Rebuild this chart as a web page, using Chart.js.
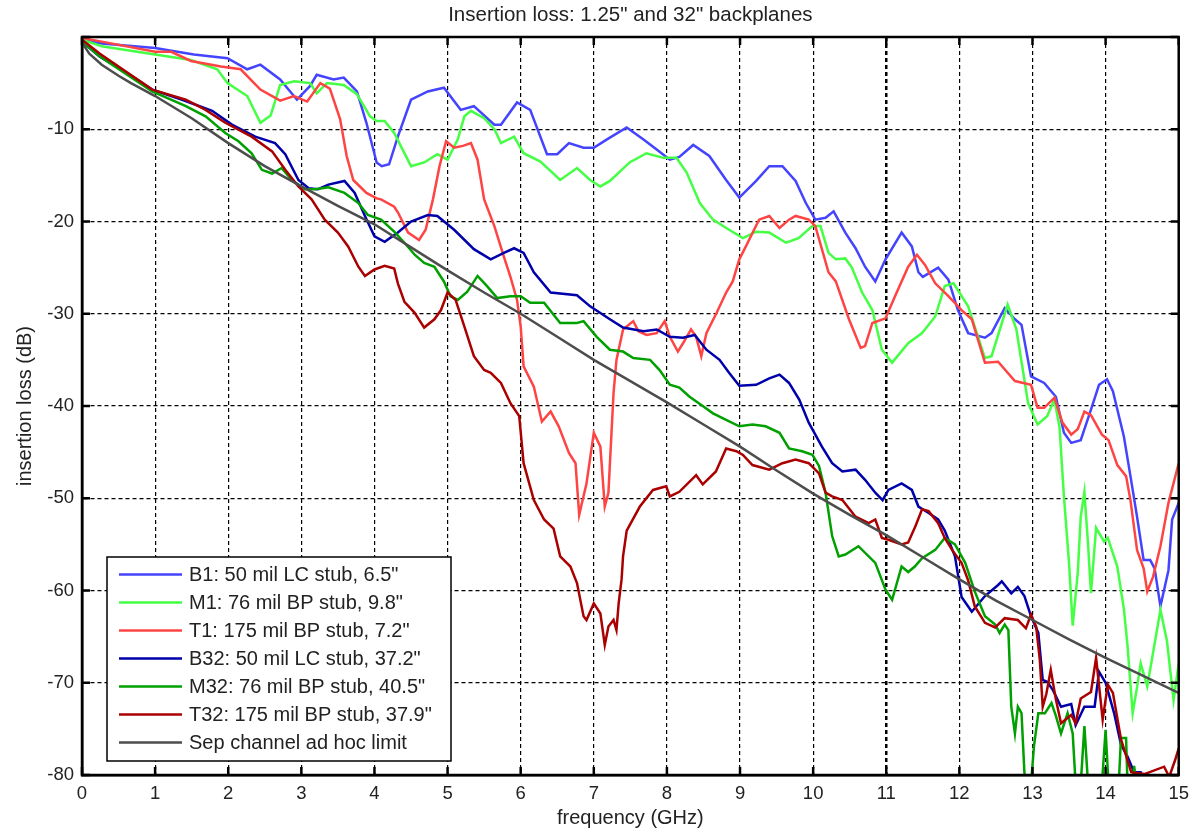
<!DOCTYPE html>
<html><head><meta charset="utf-8">
<script src="https://cdn.jsdelivr.net/npm/chart.js@4.4.1/dist/chart.umd.min.js"></script>
<style>html,body{margin:0;padding:0;background:#fff;}#wrap{width:1197px;height:830px;position:relative;}</style>
</head><body><div id="wrap"><canvas id="c"></canvas></div>
<script>
const titleText = 'Insertion loss: 1.25" and 32" backplanes';
const xTitle = 'frequency (GHz)';
const yTitle = 'insertion loss (dB)';
const xTicks = [0,1,2,3,4,5,6,7,8,9,10,11,12,13,14,15];
const yTicks = [-80,-70,-60,-50,-40,-30,-20,-10,0];
const seriesLabels = ['B1: 50 mil LC stub, 6.5"','M1: 76 mil BP stub, 9.8"','T1: 175 mil BP stub, 7.2"','B32: 50 mil LC stub, 37.2"','M32: 76 mil BP stub, 40.5"','T32: 175 mil BP stub, 37.9"','Sep channel ad hoc limit'];
const seriesColors = ['#4444ff','#44ff44','#ff4444','#0000aa','#00a000','#aa0000','#4d4d4d'];

const fB1 = [0,0.27,1.0,1.53,1.99,2.26,2.44,2.71,2.94,3.12,3.21,3.44,3.58,3.76,3.89,4.03,4.1,4.2,4.32,4.5,4.73,4.95,5.18,5.36,5.64,5.73,5.95,6.13,6.36,6.5,6.66,6.86,7.0,7.18,7.45,7.68,7.86,8.04,8.17,8.36,8.58,8.81,8.99,9.22,9.4,9.58,9.76,9.9,10.03,10.17,10.28,10.44,10.58,10.71,10.85,10.99,11.21,11.35,11.44,11.5,11.71,11.85,11.98,12.12,12.35,12.44,12.62,12.76,12.85,12.98,13.16,13.32,13.43,13.53,13.66,13.8,13.91,14.02,14.1,14.25,14.34,14.43,14.52,14.61,14.67,14.75,14.86,14.91,15.0];
const dbB1 = [-0.3,-0.7,-1.2,-1.9,-2.3,-3.5,-3.0,-4.6,-6.8,-5.3,-4.1,-4.6,-4.4,-5.9,-9.3,-13.6,-14.0,-13.8,-10.8,-6.8,-5.9,-5.5,-7.9,-7.5,-9.5,-9.5,-7.1,-7.9,-12.7,-12.7,-11.5,-12.0,-12.0,-11.1,-9.8,-11.1,-12.2,-13.3,-13.0,-11.7,-12.9,-15.5,-17.4,-15.6,-14.0,-14.0,-15.6,-18.0,-19.8,-19.6,-18.9,-21.2,-22.9,-24.9,-26.5,-24.1,-21.2,-22.7,-25.5,-26.0,-25.0,-26.3,-29.6,-32.1,-32.6,-32.1,-29.4,-30.6,-31.2,-36.8,-37.5,-39.0,-42.9,-44.0,-43.7,-40.4,-37.7,-37.1,-38.4,-43.3,-47.6,-52.0,-56.7,-56.7,-57.6,-61.7,-57.8,-52.3,-50.5];

const fM1 = [0,0.27,1.0,1.49,1.85,1.99,2.26,2.44,2.58,2.71,2.9,3.12,3.21,3.35,3.58,3.76,3.94,4.03,4.14,4.27,4.5,4.68,4.86,5.0,5.14,5.23,5.32,5.5,5.64,5.73,5.91,6.04,6.27,6.54,6.77,6.95,7.09,7.22,7.49,7.72,7.95,8.13,8.27,8.45,8.63,8.85,9.04,9.22,9.4,9.63,9.8,9.99,10.1,10.21,10.31,10.44,10.53,10.67,10.81,10.94,11.08,11.3,11.49,11.67,11.8,11.92,12.12,12.35,12.44,12.66,12.78,12.94,13.07,13.2,13.3,13.37,13.43,13.5,13.55,13.62,13.66,13.71,13.76,13.8,13.87,13.98,14.03,14.16,14.25,14.3,14.37,14.43,14.48,14.57,14.75,14.84,14.93,15.0];
const dbM1 = [-0.3,-1.0,-1.9,-2.5,-3.5,-5.0,-6.4,-9.3,-8.5,-5.2,-4.8,-5.0,-6.1,-5.0,-5.2,-6.2,-8.6,-9.1,-9.1,-10.4,-14.0,-13.6,-12.7,-13.3,-11.1,-8.6,-8.0,-8.8,-10.0,-11.5,-10.8,-12.6,-13.5,-15.5,-14.2,-15.5,-16.2,-15.6,-13.6,-12.6,-13.1,-13.1,-14.7,-18.0,-19.8,-20.9,-21.8,-21.1,-21.2,-22.3,-21.8,-20.5,-20.5,-23.4,-24.1,-24.0,-25.0,-27.7,-29.6,-33.9,-35.3,-33.2,-32.1,-30.3,-27.0,-26.7,-29.2,-34.8,-34.6,-29.0,-31.7,-39.7,-42.0,-41.1,-39.3,-42.3,-49.8,-57.0,-63.8,-58.0,-52.0,-49.3,-55.0,-60.3,-53.2,-54.7,-54.3,-57.4,-62.0,-66.0,-73.3,-70.5,-67.9,-70.4,-62.1,-65.5,-71.9,-67.9];

const fT1 = [0,0.27,1.0,1.22,1.49,1.9,2.17,2.44,2.71,2.9,3.08,3.26,3.39,3.53,3.62,3.71,3.89,4.03,4.09,4.27,4.32,4.46,4.61,4.7,4.8,4.89,4.98,5.09,5.21,5.32,5.41,5.5,5.64,5.77,5.86,5.95,6.0,6.04,6.18,6.29,6.41,6.52,6.66,6.75,6.8,6.9,7.0,7.09,7.15,7.2,7.27,7.31,7.4,7.54,7.61,7.72,7.86,7.97,8.04,8.15,8.22,8.33,8.4,8.47,8.54,8.68,8.81,8.9,8.99,9.08,9.26,9.4,9.54,9.67,9.76,9.94,10.03,10.12,10.21,10.31,10.49,10.65,10.71,10.81,10.99,11.12,11.3,11.42,11.53,11.67,11.85,12.03,12.17,12.35,12.53,12.76,12.98,13.07,13.16,13.3,13.41,13.53,13.62,13.71,13.8,13.95,14.04,14.16,14.28,14.34,14.43,14.52,14.57,14.65,14.75,14.86,15.0];
const dbT1 = [-0.1,-0.5,-1.6,-1.6,-2.6,-3.2,-3.5,-5.7,-6.9,-6.4,-7.0,-5.0,-5.6,-8.9,-12.9,-15.5,-16.9,-17.5,-17.6,-18.4,-19.0,-21.2,-22.0,-20.9,-17.6,-14.0,-11.3,-12.0,-11.8,-11.5,-13.3,-17.6,-20.5,-23.8,-26.0,-28.5,-31.4,-35.7,-37.9,-41.7,-40.6,-42.2,-45.1,-46.2,-51.8,-48.4,-42.9,-44.4,-50.9,-49.4,-38.6,-35.0,-31.7,-30.8,-31.9,-32.3,-32.1,-30.8,-32.5,-34.1,-33.2,-31.7,-32.5,-34.6,-32.1,-29.9,-27.7,-26.5,-24.1,-22.7,-19.8,-19.4,-20.7,-19.8,-19.4,-19.8,-20.5,-23.0,-25.5,-26.5,-30.6,-33.7,-33.5,-31.0,-30.5,-28.1,-24.9,-23.6,-24.7,-26.7,-28.1,-29.6,-30.6,-35.3,-35.2,-37.3,-37.7,-40.2,-40.2,-39.1,-41.8,-43.1,-42.5,-40.6,-41.0,-43.1,-43.7,-46.4,-47.6,-50.2,-55.6,-57.6,-60.1,-58.5,-55.2,-50.5,-46.2];

const fB32 = [0,0.24,0.69,0.96,1.37,1.78,2.05,2.37,2.64,2.78,2.96,3.1,3.23,3.37,3.59,3.73,3.87,4.0,4.14,4.32,4.5,4.73,4.86,5.09,5.36,5.59,5.77,5.91,6.04,6.18,6.41,6.77,6.95,7.22,7.4,7.68,7.86,8.04,8.22,8.38,8.54,8.72,8.85,8.99,9.22,9.4,9.54,9.67,9.81,9.94,10.12,10.26,10.4,10.58,10.71,10.85,10.95,11.03,11.21,11.35,11.44,11.58,11.71,11.8,11.94,12.03,12.17,12.35,12.53,12.58,12.71,12.8,12.89,12.98,13.08,13.14,13.2,13.28,13.39,13.53,13.59,13.71,13.85,13.91,14.0,14.12,14.21,14.3,14.39,14.48,14.6];
const dbB32 = [-0.5,-2.1,-4.3,-5.7,-6.8,-8.0,-9.5,-10.8,-11.5,-12.7,-15.5,-16.4,-16.5,-16.0,-15.6,-16.9,-19.4,-21.6,-22.2,-21.2,-20.0,-19.3,-19.4,-20.9,-23.0,-24.1,-23.4,-22.9,-23.4,-25.5,-27.7,-28.0,-29.2,-30.6,-31.5,-31.9,-31.7,-32.5,-32.6,-32.3,-33.9,-35.0,-36.4,-37.8,-37.7,-37.0,-36.6,-37.5,-39.3,-41.8,-44.4,-46.2,-47.1,-46.9,-48.0,-49.4,-50.2,-49.1,-48.4,-49.1,-50.9,-51.6,-52.3,-53.5,-56.3,-60.7,-62.3,-60.6,-59.4,-59.0,-60.3,-59.6,-60.6,-62.8,-64.6,-69.7,-69.9,-70.8,-72.6,-72.3,-74.6,-72.6,-72.6,-68.8,-70.0,-73.4,-76.7,-78.0,-79.7,-79.7,-82.0];

const fM32 = [0,0.24,0.96,1.42,1.69,1.96,2.14,2.32,2.46,2.6,2.73,2.87,3.05,3.19,3.37,3.59,3.78,3.91,4.09,4.27,4.41,4.55,4.68,4.82,4.95,5.04,5.14,5.27,5.41,5.54,5.68,5.86,6.0,6.13,6.32,6.54,6.77,6.86,7.04,7.22,7.4,7.54,7.77,7.9,8.04,8.17,8.31,8.49,8.63,8.81,8.99,9.17,9.35,9.54,9.67,9.85,9.99,10.08,10.17,10.26,10.35,10.44,10.62,10.85,10.99,11.08,11.21,11.3,11.39,11.49,11.67,11.8,11.94,12.08,12.21,12.35,12.49,12.55,12.62,12.67,12.71,12.76,12.8,12.85,12.89,12.93,12.98,13.02,13.08,13.17,13.26,13.32,13.39,13.48,13.55,13.59,13.66,13.71,13.76,13.95,14.0,14.04,14.18,14.21,14.28,14.3,14.37,14.39,14.42];
const dbM32 = [-0.5,-2.1,-5.9,-7.5,-8.6,-10.4,-11.3,-12.6,-14.4,-14.8,-14.2,-15.5,-16.5,-16.5,-16.3,-16.9,-18.0,-19.3,-19.8,-21.1,-22.3,-23.6,-24.5,-24.9,-26.5,-28.1,-28.5,-27.6,-25.9,-27.0,-28.3,-28.1,-28.1,-28.8,-28.8,-31.0,-31.0,-30.8,-32.5,-33.9,-34.1,-34.8,-35.0,-36.1,-37.7,-38.0,-39.0,-40.0,-40.8,-41.5,-42.2,-42.0,-42.2,-42.9,-44.6,-44.9,-45.3,-46.5,-49.4,-54.1,-56.3,-56.1,-55.2,-57.0,-59.9,-61.0,-57.4,-58.0,-57.4,-56.5,-55.6,-54.3,-55.0,-57.0,-60.1,-62.8,-63.7,-64.6,-63.7,-64.3,-72.6,-75.5,-72.6,-73.3,-79.8,-81.0,-81.0,-76.9,-73.3,-73.3,-72.2,-73.6,-75.5,-73.3,-75.5,-81.0,-81.0,-74.7,-81.0,-81.0,-75.1,-81.0,-81.0,-76.0,-76.0,-81.0,-81.0,-79.0,-81.0];

const fT32 = [0,0.24,0.96,1.42,1.69,1.96,2.32,2.6,2.78,2.96,3.14,3.32,3.5,3.64,3.78,3.87,4.0,4.14,4.27,4.32,4.41,4.55,4.68,4.82,4.91,5.0,5.11,5.23,5.36,5.5,5.59,5.73,5.86,5.98,6.04,6.18,6.32,6.45,6.54,6.68,6.77,6.86,6.9,7.0,7.09,7.15,7.2,7.27,7.31,7.34,7.38,7.4,7.45,7.63,7.81,7.99,8.04,8.17,8.4,8.49,8.67,8.81,8.95,9.04,9.17,9.4,9.58,9.76,9.94,10.08,10.17,10.26,10.4,10.58,10.76,10.85,10.94,11.03,11.21,11.3,11.4,11.49,11.58,11.71,11.8,11.9,12.03,12.12,12.21,12.35,12.49,12.62,12.8,12.91,12.98,13.05,13.1,13.14,13.19,13.25,13.32,13.39,13.53,13.59,13.66,13.8,13.87,13.96,14.03,14.1,14.21,14.35,14.53,14.8,14.87,14.95,15.0];
const dbT32 = [-0.3,-1.8,-5.7,-6.8,-7.9,-9.3,-10.8,-12.4,-14.4,-16.2,-17.6,-19.8,-21.2,-22.7,-24.9,-25.9,-25.2,-24.8,-25.1,-26.7,-28.7,-29.9,-31.5,-30.6,-29.6,-27.7,-28.5,-31.4,-34.6,-36.1,-36.4,-37.5,-39.7,-41.1,-46.2,-50.2,-52.3,-53.3,-56.3,-57.4,-59.2,-62.8,-63.2,-61.4,-62.5,-65.9,-63.9,-63.2,-64.3,-61.4,-58.8,-56.3,-53.5,-50.9,-49.1,-48.7,-49.8,-49.3,-47.5,-48.5,-47.1,-44.6,-44.9,-45.3,-46.4,-46.9,-46.2,-45.8,-46.2,-47.3,-49.4,-49.8,-50.2,-52.0,-52.7,-52.3,-54.3,-54.5,-55.0,-54.8,-53.0,-51.2,-51.4,-52.7,-54.3,-55.6,-57.0,-58.9,-61.7,-63.5,-64.0,-63.0,-63.2,-64.1,-62.6,-63.9,-67.5,-72.6,-71.2,-68.6,-71.8,-74.4,-73.5,-74.4,-71.7,-71.0,-67.3,-74.0,-70.2,-71.1,-76.1,-79.7,-79.9,-79.1,-80.2,-78.4,-77.1];

const fSep = [0,0.1,0.27,0.5,0.67,1,1.5,2,2.5,3,3.5,4,4.5,5,5.5,6,6.5,7,7.5,8,8.5,9,9.5,10,10.5,11,11.5,12,12.5,13,13.5,14,14.5,15];
const dbSep = [-0.6,-1.8,-3.0,-4.2,-5.0,-6.4,-8.8,-11.5,-14.0,-16.2,-18.3,-20.3,-22.8,-25.3,-27.7,-30.0,-32.5,-35.0,-37.3,-39.6,-42.0,-44.4,-47.0,-49.5,-51.8,-54.0,-56.4,-58.8,-61.1,-63.2,-65.3,-67.3,-69.2,-71.1];

const freqs = [fB1,fM1,fT1,fB32,fM32,fT32,fSep];
const losses = [dbB1,dbM1,dbT1,dbB32,dbM32,dbT32,dbSep];

const FONT = '"Liberation Sans", Arial, Helvetica, sans-serif';
const TEXT = '#222';

const datasets = seriesLabels.map((lab, i) => ({
  label: lab,
  data: freqs[i].map((f, j) => ({x: f, y: losses[i][j]})),
  borderColor: seriesColors[i],
  backgroundColor: seriesColors[i],
  borderWidth: 2.5,
  pointRadius: 0,
  tension: 0,
  fill: false,
  clip: 0,
  order: seriesLabels.length - 1 - i
}));

const decor = {
  id: 'decor',
  afterDatasetsDraw(chart) {
    const {ctx, chartArea: a, scales: {x, y}} = chart;
    ctx.save();
    ctx.strokeStyle = '#000';
    ctx.lineWidth = 2.5;
    ctx.strokeRect(a.left, a.top, a.right - a.left, a.bottom - a.top);
    ctx.beginPath();
    xTicks.forEach(v => {
      const px = x.getPixelForValue(v);
      ctx.moveTo(px, a.bottom); ctx.lineTo(px, a.bottom - 8);
      ctx.moveTo(px, a.top); ctx.lineTo(px, a.top + 8);
    });
    yTicks.forEach(v => {
      const py = y.getPixelForValue(v);
      ctx.moveTo(a.left, py); ctx.lineTo(a.left + 8, py);
      ctx.moveTo(a.right, py); ctx.lineTo(a.right - 8, py);
    });
    ctx.stroke();
    const lx = a.left + 25, lw = 344, lh = 204;
    const ly = a.bottom - 14 - lh;
    ctx.fillStyle = '#fff';
    ctx.fillRect(lx, ly, lw, lh);
    ctx.lineWidth = 1.5;
    ctx.strokeStyle = '#000';
    ctx.strokeRect(lx, ly, lw, lh);
    ctx.font = '20px ' + FONT;
    ctx.textBaseline = 'middle';
    ctx.textAlign = 'left';
    chart.data.datasets.forEach((ds, i) => {
      const cy = ly + 17.5 + i * 28;
      ctx.strokeStyle = ds.borderColor;
      ctx.lineWidth = 2.5;
      ctx.beginPath();
      ctx.moveTo(lx + 12, cy); ctx.lineTo(lx + 75, cy);
      ctx.stroke();
      ctx.fillStyle = TEXT;
      ctx.fillText(ds.label, lx + 82, cy + 1);
    });
    ctx.restore();
  },
  afterDraw(chart) {
    const {ctx, chartArea: a} = chart;
    ctx.save();
    ctx.font = '20.5px ' + FONT;
    ctx.fillStyle = TEXT;
    ctx.textAlign = 'center';
    ctx.textBaseline = 'middle';
    ctx.fillText(titleText, (a.left + a.right) / 2, 15);
    ctx.restore();
  }
};

new Chart(document.getElementById('c'), {
  type: 'line',
  data: {datasets},
  options: {
    responsive: true,
    maintainAspectRatio: false,
    animation: false,
    events: [],
    layout: {padding: {left: 0, right: 12, top: 37, bottom: 0}},
    plugins: {legend: {display: false}, title: {display: false}, tooltip: {enabled: false}},
    scales: {
      x: {
        type: 'linear', min: 0, max: 15,
        afterBuildTicks: s => { s.ticks = xTicks.map(v => ({value: v})); },
        afterFit: s => { s.height = 55; },
        grid: {color: '#000', lineWidth: c => (c.tick && c.tick.value === 11) ? 2.5 : 1.2, drawTicks: false},
        border: {display: true, color: '#000', width: 2.5, dash: [4, 3]},
        ticks: {color: TEXT, font: {family: FONT, size: 18.5}, padding: 8, maxRotation: 0, autoSkip: false},
        title: {display: true, text: xTitle, color: TEXT, font: {family: FONT, size: 20}, padding: {top: 0, bottom: 0}}
      },
      y: {
        type: 'linear', min: -80, max: 0,
        afterBuildTicks: s => { s.ticks = yTicks.map(v => ({value: v})); },
        afterFit: s => { s.width = 82; },
        grid: {color: '#000', lineWidth: 1.2, drawTicks: false},
        border: {display: true, color: '#000', width: 2.5, dash: [4, 3]},
        ticks: {color: TEXT, font: {family: FONT, size: 18.5}, padding: 8, autoSkip: false, callback: v => v === 0 ? '' : String(v)},
        title: {display: true, text: yTitle, color: TEXT, font: {family: FONT, size: 20}, padding: {top: 13, bottom: 0}}
      }
    }
  },
  plugins: [decor]
});
</script>
</body></html>
